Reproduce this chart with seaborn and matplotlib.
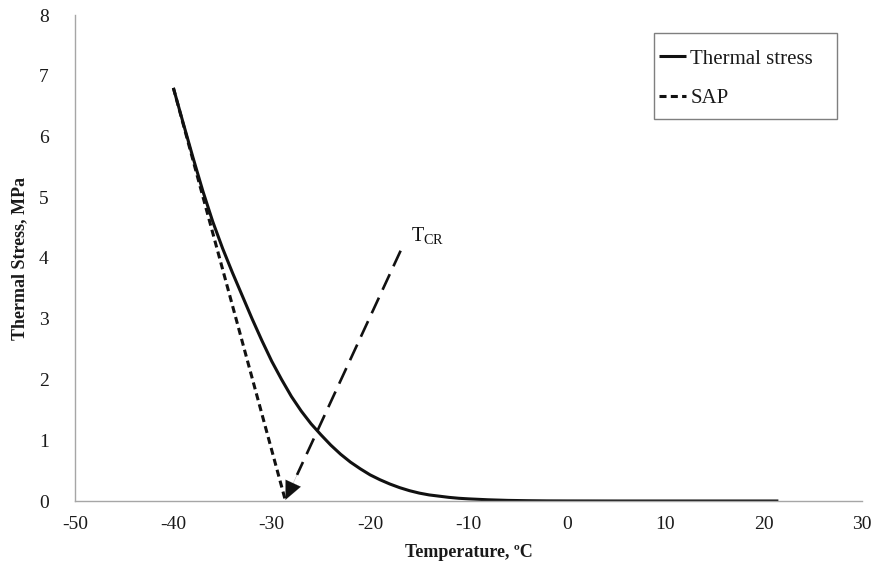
import matplotlib
matplotlib.use("Agg")
import matplotlib.pyplot as plt
import matplotlib.patches as mpatches
import seaborn as sns
import pandas as pd

# ---- data ----
temperature = [-40, -39, -38, -37, -36, -35, -34, -33, -32, -31, -30, -29, -28, -27,
               -26, -25, -24, -23, -22, -21, -20, -19, -18, -17, -16, -15, -14, -13,
               -12, -11, -10, -8, -6, -4, -2, 0, 5, 10, 15, 21.5]
thermal_stress = [6.80, 6.22, 5.65, 5.10, 4.60, 4.16, 3.76, 3.38, 3.00, 2.64, 2.30, 2.00,
                  1.72, 1.48, 1.27, 1.09, 0.92, 0.77, 0.64, 0.53, 0.43, 0.35, 0.28, 0.22,
                  0.17, 0.13, 0.10, 0.08, 0.06, 0.045, 0.035, 0.02, 0.01, 0.005, 0.002,
                  0.001, 0.0, 0.0, 0.0, 0.0]
sap_temperature = [-40, -28.6]
sap_stress = [6.80, 0.0]
tcr_start = (-16.9, 4.12)
tcr_tip = (-28.6, 0.02)
tcr_label_pos = (-15.8, 4.27)

x_ticks = [-50, -40, -30, -20, -10, 0, 10, 20, 30]
y_ticks = [0, 1, 2, 3, 4, 5, 6, 7, 8]

sns.set_style("white")
plt.rcParams["font.family"] = ["Liberation Serif", "DejaVu Serif"]
plt.rcParams["mathtext.fontset"] = "custom"
plt.rcParams["mathtext.rm"] = "Liberation Serif"
plt.rcParams["axes.unicode_minus"] = False

fig = plt.figure(figsize=(8.74, 5.68), dpi=100)
ax = fig.add_axes([75 / 874, 1 - 501 / 568, (862 - 75) / 874, (501 - 15) / 568])

ts_df = pd.DataFrame({"T": temperature, "S": thermal_stress})
sap_df = pd.DataFrame({"T": sap_temperature, "S": sap_stress})

line_color = "#111111"
sns.lineplot(data=ts_df, x="T", y="S", ax=ax, color=line_color, lw=2.2,
             label="Thermal stress", sort=False, solid_capstyle="butt")
sns.lineplot(data=sap_df, x="T", y="S", ax=ax, color=line_color, lw=2.2,
             label="SAP", sort=False, dashes=False)
ax.lines[1].set_dashes((2.3, 1.4))

# T_CR dashed arrow
dx = tcr_tip[0] - tcr_start[0]
dy = tcr_tip[1] - tcr_start[1]
ax.plot([tcr_start[0], tcr_start[0] + 0.9 * dx], [tcr_start[1], tcr_start[1] + 0.9 * dy],
        color=line_color, lw=1.9, dashes=(6.5, 3.3))
ax.annotate("", xy=tcr_tip, xytext=(tcr_start[0] + 0.85 * dx, tcr_start[1] + 0.85 * dy),
            arrowprops=dict(arrowstyle="-|>,head_length=0.65,head_width=0.3",
                            mutation_scale=20, color=line_color, lw=0.1,
                            shrinkA=0, shrinkB=0))
ax.text(tcr_label_pos[0], tcr_label_pos[1], r"T$_{\mathrm{CR}}$", fontsize=14.5,
        va="baseline", ha="left", color="#111111")

ax.set_xlim(-50, 30)
ax.set_ylim(0, 8)
ax.set_xticks(x_ticks)
ax.set_yticks(y_ticks)
ax.set_xticklabels([str(v) for v in x_ticks])
ax.set_yticklabels([str(v) for v in y_ticks])

spine_color = "#a6a6a6"
for side in ["top", "right"]:
    ax.spines[side].set_visible(False)
for side in ["left", "bottom"]:
    ax.spines[side].set_color(spine_color)
    ax.spines[side].set_linewidth(1.0)
ax.tick_params(axis="both", direction="out", length=4, width=1.0, color=spine_color,
               labelsize=14, labelcolor="#1a1a1a")
ax.tick_params(axis="y", pad=15)
ax.tick_params(axis="x", pad=7)

ax.set_xlabel("Temperature, ºC", fontsize=13, fontweight="bold", color="#1a1a1a")
ax.set_ylabel("Thermal Stress, MPa", fontsize=13, fontweight="bold", color="#1a1a1a")
ax.xaxis.set_label_coords(0.5, -0.088)
ax.yaxis.set_label_coords(-0.0595, 0.5)

# legend
handles, labels = ax.get_legend_handles_labels()
leg = fig.legend(handles[:2], labels[:2], loc="upper left",
                 bbox_to_anchor=(659 / 874, 1 - 49 / 568), frameon=False,
                 fontsize=15, handlelength=1.3, handletextpad=0.2,
                 labelspacing=0.95, borderpad=0, borderaxespad=0)
for t in leg.get_texts():
    t.set_color("#1a1a1a")
if ax.get_legend():
    ax.get_legend().remove()
rect = mpatches.Rectangle((654 / 874, 1 - 119 / 568), (837 - 654) / 874, (119 - 33) / 568,
                          transform=fig.transFigure, fill=False, edgecolor="#7f7f7f",
                          lw=1.0)
fig.patches.append(rect)

fig.savefig("out.png", dpi=100)
